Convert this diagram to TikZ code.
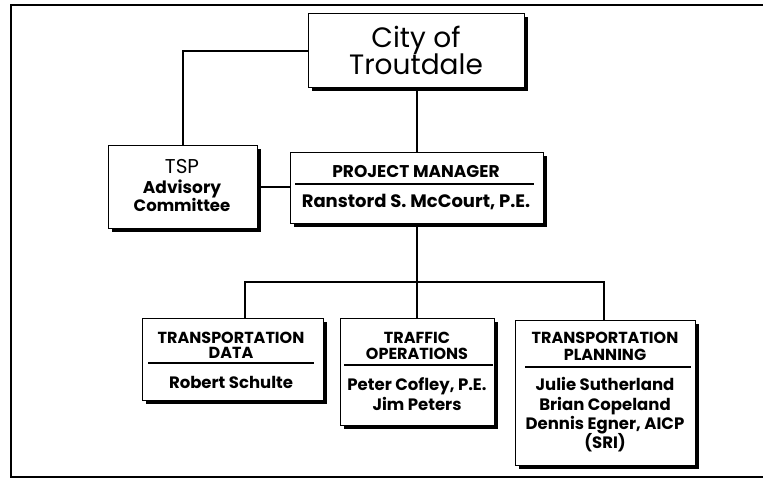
\documentclass[tikz,border=0pt]{standalone}
\usepackage{fontspec}
\setmainfont{Poppins}
\usetikzlibrary{shadows}
\begin{document}
\begin{tikzpicture}[x=1pt,y=-1pt,
  box/.style={draw=black,line width=1.3pt,fill=white,rectangle,inner sep=0pt,
    drop shadow={shadow xshift=3.5pt,shadow yshift=-3.5pt,fill=black,opacity=1}},
  conn/.style={line width=1.8pt},
  rulel/.style={line width=1.4pt},
  hd/.style={font=\bfseries\fontsize{16}{16}\selectfont,inner sep=0pt,anchor=base},
  nm/.style={font=\bfseries\fontsize{16.5}{16}\selectfont,inner sep=0pt,anchor=base},
]
\useasboundingbox (0,0) rectangle (763,480);
% frame
\coordinate (f1) at (763,5);
\coordinate (f2) at (11,5);
\coordinate (f3) at (11,477);
\coordinate (f4) at (763,477);
\draw[line width=1.8pt] (f1) -- (f2) -- (f3) -- (f4);
% boxes
\node[box,minimum width=216pt,minimum height=74pt,anchor=north west] (city) at (308,13) {};
\node[box,minimum width=149pt,minimum height=83pt,anchor=north west] (tsp) at (108,145) {};
\node[box,minimum width=253pt,minimum height=71pt,anchor=north west] (pm) at (290,152) {};
\node[box,minimum width=181pt,minimum height=82pt,anchor=north west] (td) at (142,318) {};
\node[box,minimum width=154pt,minimum height=107pt,anchor=north west] (to) at (340,318) {};
\node[box,minimum width=180pt,minimum height=145pt,anchor=north west] (tp) at (515,320) {};
% city text
\node[font=\fontsize{28}{28}\selectfont,inner sep=0pt,anchor=base] (c1) at (416,47) {City of};
\node[font=\fontsize{28}{28}\selectfont,inner sep=0pt,anchor=base] (c2) at (416,74) {Troutdale};
% tsp text
\node[font=\fontsize{20}{20}\selectfont,inner sep=0pt,anchor=base] (t1) at (182,173) {TSP};
\node[hd,font=\bfseries\fontsize{17}{17}\selectfont] (t2) at (182,193) {Advisory};
\node[hd,font=\bfseries\fontsize{16.5}{17}\selectfont] (t3) at (182,211) {Committee};
% pm text
\node[hd,font=\bfseries\fontsize{17}{17}\selectfont] (p1) at (416,177) {PROJECT MANAGER};
\draw[rulel] ([xshift=5pt]pm.west |- 0,184) coordinate (pl1) -- ([xshift=-10pt]pm.east |- 0,184) coordinate (pl2);
\node[nm,font=\bfseries\fontsize{18}{18}\selectfont] (p2) at (416,207) {Ranstord S. McCourt, P.E.};
% td text
\node[hd] (d1) at (231,343) {TRANSPORTATION};
\node[hd] (d2) at (231,358) {DATA};
\draw[rulel] ([xshift=6pt]td.west |- 0,363) coordinate (dl1) -- ([xshift=-10pt]td.east |- 0,363) coordinate (dl2);
\node[nm] (d3) at (231,388) {Robert Schulte};
% to text
\node[hd] (o1) at (417,343) {TRAFFIC};
\node[hd] (o2) at (417,359) {OPERATIONS};
\draw[rulel] ([xshift=4pt]to.west |- 0,365) coordinate (ol1) -- ([xshift=-2pt]to.east |- 0,365) coordinate (ol2);
\node[nm] (o3) at (417,390) {Peter Cofley, P.E.};
\node[nm] (o4) at (417,410) {Jim Peters};
% tp text
\node[hd] (q1) at (605,343) {TRANSPORTATION};
\node[hd] (q2) at (605,360) {PLANNING};
\draw[rulel] ([xshift=10pt]tp.west |- 0,367) coordinate (ql1) -- ([xshift=-5pt]tp.east |- 0,367) coordinate (ql2);
\node[nm] (q3) at (605,390) {Julie Sutherland};
\node[nm] (q4) at (605,410) {Brian Copeland};
\node[nm] (q5) at (605,429) {Dennis Egner, AICP};
\node[nm] (q6) at (605,448) {(SRI)};
% connectors
\coordinate (busL) at (245,282);
\coordinate (busR) at (604,282);
\draw[conn] (city.west) -| (tsp.north);
\draw[conn] (city.south) -- (city.south |- pm.north);
\draw[conn] (tsp.east) -- (tsp.east -| pm.west);
\draw[conn] (pm.south) -- (pm.south |- to.north);
\draw[conn] (busL |- td.north) -- (busL) -- (busR) -- (busR |- tp.north);
\end{tikzpicture}
\end{document}
